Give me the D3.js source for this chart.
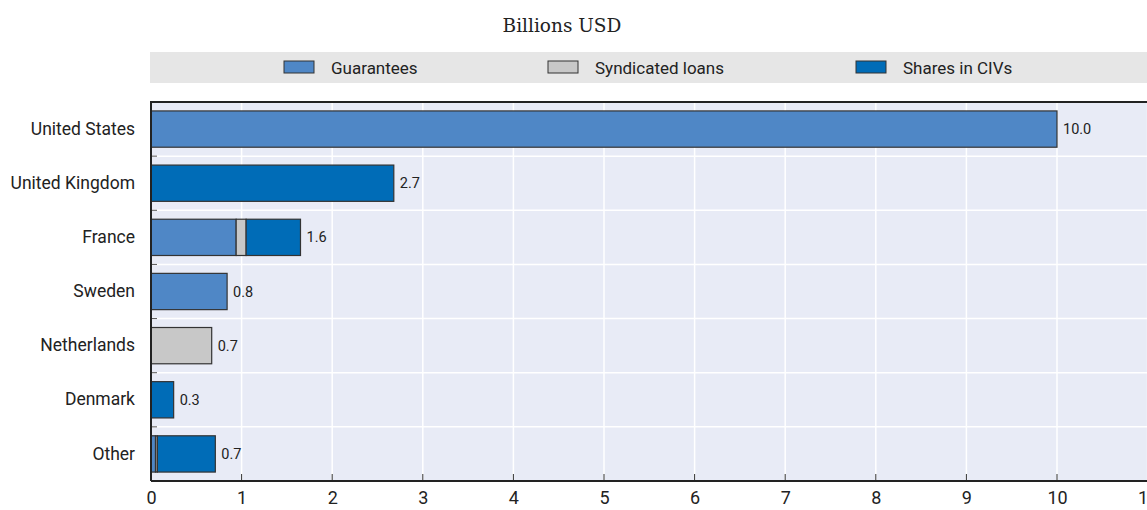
<!DOCTYPE html>
<html><head><meta charset="utf-8">
<script src="https://cdn.jsdelivr.net/npm/d3@7"></script>
<style>
body{margin:0;background:#fff;}
svg{display:block;}
</style></head>
<body><svg id="c" width="1147" height="510"></svg>
<script>
const categories = ["United States","United Kingdom","France","Sweden","Netherlands","Denmark","Other"];
const guarantees = [10.0, 0, 0.94, 0.84, 0, 0, 0.05];
const syndicated = [0, 0, 0.11, 0, 0.67, 0, 0.02];
const shares = [0, 2.68, 0.6, 0, 0, 0.25, 0.64];
const seriesNames = ["Guarantees","Syndicated loans","Shares in CIVs"];
const xTicks = [0,1,2,3,4,5,6,7,8,9,10,11];
const subtitle = "Billions USD";

const colors = {"Guarantees":"#4f87c6","Syndicated loans":"#c8c8c8","Shares in CIVs":"#006cb7"};
const cond = "Roboto,'Liberation Sans',sans-serif";

const svg = d3.select("#c");
const m = {left:151, top:102, right:1147, bottom:481};

const rows = categories.map((c,i)=>({cat:c, "Guarantees":guarantees[i], "Syndicated loans":syndicated[i], "Shares in CIVs":shares[i]}));
const stack = d3.stack().keys(seriesNames)(rows);

const x = d3.scaleLinear().domain([0,11]).range([m.left, m.left + 11*90.6]);
const y = d3.scaleBand().domain(categories).range([m.top, m.bottom]).paddingInner(0.33).paddingOuter(0.165);

// subtitle
svg.append("text").attr("x",562).attr("y",31.5).attr("text-anchor","middle")
  .attr("font-family","'DejaVu Serif','Liberation Serif',serif").attr("font-size",18.5).attr("fill","#222").text(subtitle);

// legend band
svg.append("rect").attr("x",150).attr("y",52).attr("width",997).attr("height",31).attr("fill","#e6e6e6");
const legX = [284,548,856];
seriesNames.forEach((s,i)=>{
  svg.append("rect").attr("x",legX[i]).attr("y",61).attr("width",30).attr("height",12)
    .attr("fill",colors[s]).attr("stroke","#333").attr("stroke-width",1);
  svg.append("text").attr("x",legX[i]+47).attr("y",73.5).attr("font-family",cond).attr("font-size",17)
    .attr("fill","#222").text(s);
});

// plot background
svg.append("rect").attr("x",m.left).attr("y",m.top).attr("width",m.right-m.left).attr("height",m.bottom-m.top).attr("fill","#e8ebf6");

// vertical gridlines
svg.append("g").selectAll("line").data(xTicks.filter(d=>d>0)).join("line")
  .attr("x1",d=>x(d)).attr("x2",d=>x(d)).attr("y1",m.top).attr("y2",m.bottom)
  .attr("stroke","#fff").attr("stroke-width",1.5);
// horizontal gridlines at band boundaries
const bounds = categories.slice(1).map(c=>y(c) - y.step()*y.paddingInner()/2);
svg.append("g").selectAll("line").data(bounds).join("line")
  .attr("x1",m.left).attr("x2",m.right).attr("y1",d=>d).attr("y2",d=>d)
  .attr("stroke","#fff").attr("stroke-width",1.5);
// left tick marks
svg.append("g").selectAll("line").data(bounds).join("line")
  .attr("x1",m.left).attr("x2",m.left+6).attr("y1",d=>d).attr("y2",d=>d)
  .attr("stroke","#555").attr("stroke-width",1);

// bars
svg.append("g").selectAll("g").data(stack).join("g")
  .attr("fill",d=>colors[d.key])
  .selectAll("rect").data(d=>d.filter(p=>p[1]-p[0]>0)).join("rect")
  .attr("x",d=>x(d[0])).attr("width",d=>x(d[1])-x(d[0]))
  .attr("y",d=>y(d.data.cat)).attr("height",y.bandwidth())
  .attr("stroke","#333").attr("stroke-width",1.2);

// value labels
svg.append("g").selectAll("text").data(rows).join("text")
  .attr("x",d=>x(d["Guarantees"]+d["Syndicated loans"]+d["Shares in CIVs"])+6)
  .attr("y",d=>y(d.cat)+y.bandwidth()/2+5)
  .attr("font-family",cond).attr("font-size",14.5).attr("fill","#222")
  .text(d=>(d["Guarantees"]+d["Syndicated loans"]+d["Shares in CIVs"]).toFixed(1));

// axes
const xAxis = d3.axisBottom(x).tickValues(xTicks).tickSize(0).tickPadding(10).tickFormat(d3.format("d"));
const gx = svg.append("g").attr("transform",`translate(0,${m.bottom})`).call(xAxis);
gx.select(".domain").remove();
gx.selectAll("text").attr("font-family",cond).attr("font-size",18).attr("fill","#222");
svg.append("g").selectAll("line").data(xTicks).join("line")
  .attr("x1",d=>x(d)).attr("x2",d=>x(d)).attr("y1",m.bottom-7).attr("y2",m.bottom)
  .attr("stroke","#333").attr("stroke-width",1);

const yAxis = d3.axisLeft(y).tickSize(0).tickPadding(16);
const gy = svg.append("g").attr("transform",`translate(${m.left},0)`).call(yAxis);
gy.select(".domain").remove();
gy.selectAll("text").attr("font-family",cond).attr("font-size",17.5).attr("fill","#222");

// frame lines
svg.append("line").attr("x1",m.left).attr("x2",m.right).attr("y1",m.bottom).attr("y2",m.bottom).attr("stroke","#222").attr("stroke-width",2);
svg.append("line").attr("x1",m.left-1).attr("x2",m.right).attr("y1",m.top).attr("y2",m.top).attr("stroke","#222").attr("stroke-width",2);
svg.append("line").attr("x1",m.left).attr("x2",m.left).attr("y1",m.top).attr("y2",m.bottom).attr("stroke","#222").attr("stroke-width",2);
</script></body></html>
